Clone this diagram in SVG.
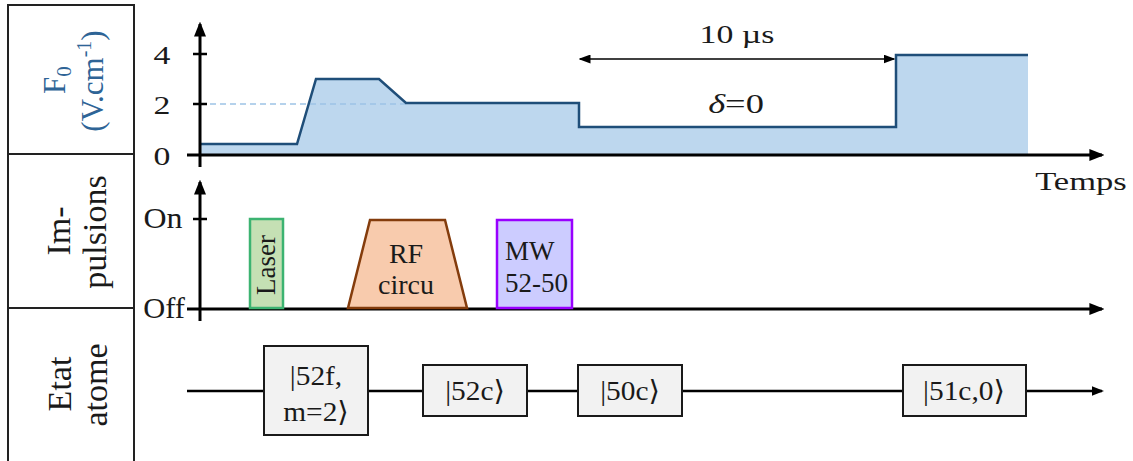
<svg xmlns="http://www.w3.org/2000/svg" width="1133" height="461" viewBox="0 0 1133 461">
<style>
.t{font-family:"Liberation Serif","DejaVu Serif",serif;fill:#1a1a1a}
.blue{fill:#2e6496}
.ax{stroke:#000;stroke-width:3;fill:none}
.tk{stroke:#000;stroke-width:2.5}
.box{fill:#f2f2f2;stroke:#1a1a1a;stroke-width:2}
.tbl{fill:none;stroke:#222;stroke-width:2}
</style>
<defs>
<marker id="ah" markerWidth="5" markerHeight="4" refX="4.2" refY="2" orient="auto" markerUnits="strokeWidth"><path d="M0,0 L5,2 L0,4 Z" fill="#000"/></marker>
<marker id="ah2" markerWidth="8" markerHeight="6" refX="7" refY="3" orient="auto-start-reverse" markerUnits="strokeWidth"><path d="M0,0 L8,3 L0,6 Z" fill="#000"/></marker>
</defs>

<g id="table">
<path class="tbl" d="M8,470 V5 H134 V470 M8,154 H134 M8,308 H134"/>
<text class="t blue" font-size="31" text-anchor="middle" transform="translate(65,80) rotate(-90)">F<tspan font-size="21" dy="6">0</tspan></text>
<text class="t blue" font-size="31" text-anchor="middle" transform="translate(103,81) rotate(-90)">(V.cm<tspan font-size="20" dy="-12">-1</tspan><tspan dy="12">)</tspan></text>
<text class="t" font-size="34" text-anchor="middle" transform="translate(70,231) rotate(-90)">Im-</text>
<text class="t" font-size="34" text-anchor="middle" transform="translate(106,232) rotate(-90)">pulsions</text>
<text class="t" font-size="34" text-anchor="middle" transform="translate(71,384) rotate(-90)">Etat</text>
<text class="t" font-size="34" text-anchor="middle" transform="translate(107,385) rotate(-90)">atome</text>
</g>

<g id="f0-panel">
<path d="M200,155 V144 H297 L316,79 H379 L406,103 H579 V127 H896 V55 H1028 V155 Z" fill="#bdd7ee"/>
<line x1="200" y1="104" x2="406" y2="104" stroke="#9dc3e6" stroke-width="1.5" stroke-dasharray="6,4"/>
<path d="M200,144 H297 L316,79 H379 L406,103 H579 V127 H896 V55 H1028" fill="none" stroke="#1f4e79" stroke-width="2.5"/>
<line class="ax" x1="187" y1="155" x2="1102" y2="155" marker-end="url(#ah)"/>
<line class="ax" x1="200" y1="167" x2="200" y2="24" marker-end="url(#ah)"/>
<line class="tk" x1="193" y1="54" x2="207" y2="54"/>
<line class="tk" x1="193" y1="104" x2="207" y2="104"/>
<text class="t" font-size="26" text-anchor="middle" transform="translate(162,64) scale(1.3,1)">4</text>
<text class="t" font-size="26" text-anchor="middle" transform="translate(162,114) scale(1.3,1)">2</text>
<text class="t" font-size="26" text-anchor="middle" transform="translate(162,165) scale(1.3,1)">0</text>
<line x1="580" y1="59" x2="894" y2="59" stroke="#000" stroke-width="1.5" marker-start="url(#ah2)" marker-end="url(#ah2)"/>
<text class="t" font-size="26" text-anchor="middle" transform="translate(737,43) scale(1.3,1)">10 µs</text>
<text class="t" font-size="27" text-anchor="middle" transform="translate(736,113) scale(1.35,1)"><tspan font-style="italic">δ</tspan>=0</text>
<text class="t" font-size="26" text-anchor="middle" transform="translate(1081,190) scale(1.33,1)">Temps</text>
</g>

<g id="pulses-panel">
<line class="ax" x1="187" y1="309" x2="1102" y2="309" marker-end="url(#ah)"/>
<line class="ax" x1="200" y1="321" x2="200" y2="182" marker-end="url(#ah)"/>
<line class="tk" x1="193" y1="219" x2="207" y2="219"/>
<text class="t" font-size="29" text-anchor="middle" transform="translate(163,228) scale(1.1,1)">On</text>
<text class="t" font-size="29" text-anchor="middle" transform="translate(164,318) scale(1.05,1)">Off</text>
</g>

<g id="laser">
<rect x="250" y="219" width="33" height="89" fill="#c5e0b4" stroke="#3cb371" stroke-width="2.5"/>
<text class="t" font-size="27" text-anchor="middle" transform="translate(275,265) rotate(-90)">Laser</text>
</g>

<g id="rf">
<path d="M348,308 L370,220 H445 L467,308 Z" fill="#f8cbad" stroke="#843c0c" stroke-width="2.5"/>
<text class="t" font-size="28" text-anchor="middle" x="406" y="263">RF</text>
<text class="t" font-size="28" text-anchor="middle" x="406" y="294">circu</text>
</g>

<g id="mw">
<rect x="497" y="220" width="75" height="88" fill="#ccccff" stroke="#9900ff" stroke-width="2.5"/>
<text class="t" font-size="27" x="505" y="260">MW</text>
<text class="t" font-size="27" x="505" y="292">52-50</text>
</g>

<g id="connectors">
<line x1="187" y1="391" x2="1102" y2="391" stroke="#000" stroke-width="2.5" marker-end="url(#ah)"/>
</g>

<g id="state-52f">
<rect class="box" x="264" y="346" width="104" height="89"/>
<text class="t" font-size="28" text-anchor="middle" transform="translate(316,385) scale(1.05,1)">|52f,</text>
<text class="t" font-size="28" text-anchor="middle" transform="translate(316,421) scale(1.05,1)">m=2⟩</text>
</g>
<g id="state-52c">
<rect class="box" x="423" y="365" width="104" height="51"/>
<text class="t" font-size="28" text-anchor="middle" transform="translate(475,400) scale(1.05,1)">|52c⟩</text>
</g>
<g id="state-50c">
<rect class="box" x="578" y="365" width="104" height="51"/>
<text class="t" font-size="28" text-anchor="middle" transform="translate(630,400) scale(1.05,1)">|50c⟩</text>
</g>
<g id="state-51c">
<rect class="box" x="903" y="365" width="123" height="51"/>
<text class="t" font-size="28" text-anchor="middle" transform="translate(964,400) scale(1.05,1)">|51c,0⟩</text>
</g>
</svg>
